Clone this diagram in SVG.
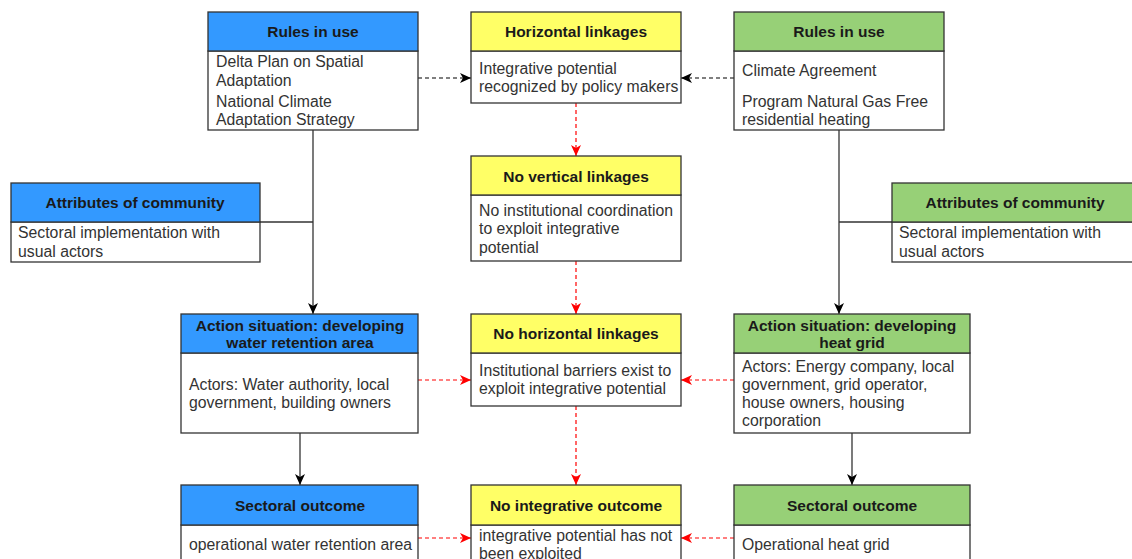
<svg xmlns="http://www.w3.org/2000/svg" width="1132" height="559" viewBox="0 0 1132 559">
<style>
.box{fill:#ffffff;stroke:#333333;stroke-width:1.3}
.blue{fill:#3399ff;stroke:#333333;stroke-width:1.3}
.green{fill:#97d077;stroke:#333333;stroke-width:1.3}
.yellow{fill:#ffff66;stroke:#333333;stroke-width:1.3}
.h{font-family:"Liberation Sans",Arial,sans-serif;font-size:15.5px;font-weight:bold;fill:#1a1a1a;text-anchor:middle}
.t{font-family:"Liberation Sans",Arial,sans-serif;font-size:15.8px;fill:#333333}
.solid{fill:none;stroke:#333333;stroke-width:1.3}
.dk{fill:none;stroke:#000000;stroke-width:1.2;stroke-dasharray:4 3}
.rd{fill:none;stroke:#ff0000;stroke-width:1.2;stroke-dasharray:4 3}
</style>
<defs>
<marker id="ab" markerUnits="userSpaceOnUse" markerWidth="12" markerHeight="11" refX="11" refY="5" orient="auto" viewBox="0 0 12 11">
<path d="M0,0 L11,5 L0,10 L3,5 z" fill="#000000"/>
</marker>
<marker id="ar" markerUnits="userSpaceOnUse" markerWidth="12" markerHeight="11" refX="11" refY="5" orient="auto" viewBox="0 0 12 11">
<path d="M0,0 L11,5 L0,10 L3,5 z" fill="#ff0000"/>
</marker>
</defs>
<rect x="0" y="0" width="1132" height="559" fill="#ffffff"/>

<g id="connectors">
<path class="solid" d="M313,130 V314" marker-end="url(#ab)"/>
<path class="solid" d="M260,222 H313"/>
<path class="solid" d="M839,130 V314" marker-end="url(#ab)"/>
<path class="solid" d="M892,222 H839"/>
<path class="solid" d="M300,433 V485" marker-end="url(#ab)"/>
<path class="solid" d="M852,433 V485" marker-end="url(#ab)"/>
<path class="dk" d="M418,78 H471" marker-end="url(#ab)"/>
<path class="dk" d="M734,78 H681" marker-end="url(#ab)"/>
<path class="rd" d="M576,103 V156" marker-end="url(#ar)"/>
<path class="rd" d="M576,261 V314" marker-end="url(#ar)"/>
<path class="rd" d="M576,406 V485" marker-end="url(#ar)"/>
<path class="rd" d="M418,380 H471" marker-end="url(#ar)"/>
<path class="rd" d="M734,380 H681" marker-end="url(#ar)"/>
<path class="rd" d="M418,538 H471" marker-end="url(#ar)"/>
<path class="rd" d="M734,538 H681" marker-end="url(#ar)"/>
</g>

<g id="rules-left">
<rect class="box" x="208" y="51" width="210" height="79"/>
<rect class="blue" x="208" y="12" width="210" height="39"/>
<text class="h" x="313" y="37">Rules in use</text>
<text class="t" x="216" y="67">Delta Plan on Spatial</text>
<text class="t" x="216" y="86">Adaptation</text>
<text class="t" x="216" y="107">National Climate</text>
<text class="t" x="216" y="125">Adaptation Strategy</text>
</g>

<g id="horizontal-linkages">
<rect class="box" x="471" y="51" width="210" height="52"/>
<rect class="yellow" x="471" y="12" width="210" height="39"/>
<text class="h" x="576" y="37">Horizontal linkages</text>
<text class="t" x="479" y="74">Integrative potential</text>
<text class="t" x="479" y="92">recognized by policy makers</text>
</g>

<g id="rules-right">
<rect class="box" x="734" y="51" width="210" height="79"/>
<rect class="green" x="734" y="12" width="210" height="39"/>
<text class="h" x="839" y="37">Rules in use</text>
<text class="t" x="742" y="76">Climate Agreement</text>
<text class="t" x="742" y="107">Program Natural Gas Free</text>
<text class="t" x="742" y="125">residential heating</text>
</g>

<g id="attributes-left">
<rect class="box" x="11" y="222" width="249" height="40"/>
<rect class="blue" x="11" y="183" width="249" height="39"/>
<text class="h" x="135" y="208">Attributes of community</text>
<text class="t" x="18" y="238">Sectoral implementation with</text>
<text class="t" x="18" y="257">usual actors</text>
</g>

<g id="no-vertical-linkages">
<rect class="box" x="471" y="195" width="210" height="66"/>
<rect class="yellow" x="471" y="156" width="210" height="39"/>
<text class="h" x="576" y="182">No vertical linkages</text>
<text class="t" x="479" y="216">No institutional coordination</text>
<text class="t" x="479" y="234">to exploit integrative</text>
<text class="t" x="479" y="253">potential</text>
</g>

<g id="attributes-right">
<rect class="box" x="892" y="222" width="250" height="40"/>
<rect class="green" x="892" y="183" width="250" height="39"/>
<text class="h" x="1015" y="208">Attributes of community</text>
<text class="t" x="899" y="238">Sectoral implementation with</text>
<text class="t" x="899" y="257">usual actors</text>
</g>

<g id="action-left">
<rect class="box" x="181" y="353" width="237" height="80"/>
<rect class="blue" x="181" y="314" width="237" height="39"/>
<text class="h" x="300" y="331">Action situation: developing</text>
<text class="h" x="300" y="348">water retention area</text>
<text class="t" x="189" y="390">Actors: Water authority, local</text>
<text class="t" x="189" y="408">government, building owners</text>
</g>

<g id="no-horizontal-linkages">
<rect class="box" x="471" y="353" width="210" height="53"/>
<rect class="yellow" x="471" y="314" width="210" height="39"/>
<text class="h" x="576" y="339">No horizontal linkages</text>
<text class="t" x="479" y="376">Institutional barriers exist to</text>
<text class="t" x="479" y="394">exploit integrative potential</text>
</g>

<g id="action-right">
<rect class="box" x="734" y="353" width="236" height="80"/>
<rect class="green" x="734" y="314" width="236" height="39"/>
<text class="h" x="852" y="331">Action situation: developing</text>
<text class="h" x="852" y="348">heat grid</text>
<text class="t" x="742" y="372">Actors: Energy company, local</text>
<text class="t" x="742" y="390">government, grid operator,</text>
<text class="t" x="742" y="408">house owners, housing</text>
<text class="t" x="742" y="426">corporation</text>
</g>

<g id="sectoral-left">
<rect class="box" x="181" y="525" width="237" height="50"/>
<rect class="blue" x="181" y="485" width="237" height="40"/>
<text class="h" x="300" y="511">Sectoral outcome</text>
<text class="t" x="189" y="550">operational water retention area</text>
</g>

<g id="no-integrative-outcome">
<rect class="box" x="471" y="525" width="210" height="50"/>
<rect class="yellow" x="471" y="485" width="210" height="40"/>
<text class="h" x="576" y="511">No integrative outcome</text>
<text class="t" x="479" y="541">integrative potential has not</text>
<text class="t" x="479" y="559">been exploited</text>
</g>

<g id="sectoral-right">
<rect class="box" x="734" y="525" width="236" height="50"/>
<rect class="green" x="734" y="485" width="236" height="40"/>
<text class="h" x="852" y="511">Sectoral outcome</text>
<text class="t" x="742" y="550">Operational heat grid</text>
</g>
</svg>
